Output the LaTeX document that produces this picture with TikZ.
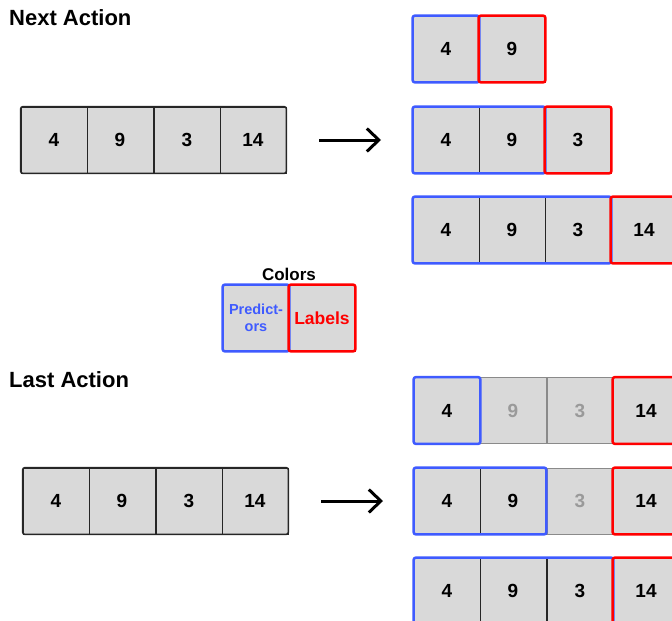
\documentclass[tikz,border=0pt]{standalone}
\usepackage{fontspec}
\setmainfont{Liberation Sans}
\usetikzlibrary{arrows.meta}
\definecolor{cellgray}{HTML}{D9D9D9}
\definecolor{predblue}{HTML}{3F5BFF}
\definecolor{labred}{HTML}{FF0000}
\definecolor{dimgray}{HTML}{8A8A8A}
\definecolor{dimtext}{HTML}{9A9A9A}
\tikzset{
  cell/.style={draw=black!85, line width=0.9pt, fill=cellgray, minimum width=66pt, minimum height=66pt, inner sep=0pt, font=\fontsize{19}{21}\selectfont\bfseries},
  dimcell/.style={cell, draw=dimgray, text=dimtext},
  outerbox/.style={draw=black!85, line width=1.5pt, rounded corners=2.5pt},
  bluebox/.style={draw=predblue, line width=2.5pt, rounded corners=2.5pt},
  redbox/.style={draw=labred, line width=2.5pt, rounded corners=2.5pt},
  title/.style={anchor=base west, inner sep=0pt, font=\fontsize{22}{24}\selectfont\bfseries},
  arrowline/.style={-{Straight Barb[length=12pt,width=23pt,line width=3pt]}, line width=3pt}
}
\begin{document}
\begin{tikzpicture}[x=1pt, y=-1pt]
\useasboundingbox (0,0) rectangle (672,621);
% titles
\node[title] (t1) at (9,25) {Next Action};
\node[title] (t2) at (9,387) {Last Action};
% top-left array
\node[cell] (a1) at (54,140) {4};
\node[cell] (a2) at (120,140) {9};
\node[cell] (a3) at (187,140) {3};
\node[cell] (a4) at (253,140) {14};
\draw[outerbox] (a1.north west) rectangle (a4.south east);
% arrow top
\coordinate (ar1s) at (319,140);
\coordinate (ar1e) at (381,140);
\draw[arrowline] (ar1s) -- (ar1e);
% top right row 1
\node[cell] (p1a) at (446,49) {4};
\node[cell] (p1b) at (512,49) {9};
\draw[bluebox] (p1a.north west) rectangle (p1a.south east);
\draw[redbox] (p1b.north west) rectangle (p1b.south east);
% row 2
\node[cell] (p2a) at (446,140) {4};
\node[cell] (p2b) at (512,140) {9};
\node[cell] (p2c) at (578,140) {3};
\draw[bluebox] (p2a.north west) rectangle (p2b.south east);
\draw[redbox] (p2c.north west) rectangle (p2c.south east);
% row 3
\node[cell] (p3a) at (446,230) {4};
\node[cell] (p3b) at (512,230) {9};
\node[cell] (p3c) at (578,230) {3};
\node[cell] (p3d) at (644,230) {14};
\draw[bluebox] (p3a.north west) rectangle (p3c.south east);
\draw[redbox] (p3d.north west) rectangle (p3d.south east);
% legend
\node[anchor=base, inner sep=0pt, font=\fontsize{17}{19}\selectfont\bfseries] (lt) at (289,280) {Colors};
\node[cell, font=\fontsize{14.5}{17}\selectfont\bfseries, text=predblue, align=center] (lp) at (256,318) {Predict-\\ors};
\node[cell, font=\fontsize{17.5}{19}\selectfont\bfseries, text=labred] (ll) at (322,318) {Labels};
\draw[bluebox] (lp.north west) rectangle (lp.south east);
\draw[redbox] (ll.north west) rectangle (ll.south east);
% bottom-left array
\node[cell] (b1) at (56,501) {4};
\node[cell] (b2) at (122,501) {9};
\node[cell] (b3) at (189,501) {3};
\node[cell] (b4) at (255,501) {14};
\draw[outerbox] (b1.north west) rectangle (b4.south east);
% arrow bottom
\coordinate (ar2s) at (321,501);
\coordinate (ar2e) at (383,501);
\draw[arrowline] (ar2s) -- (ar2e);
% bottom right row 1
\node[cell] (s1a) at (447,410.5) {4};
\node[dimcell] (s1b) at (513,410.5) {9};
\node[dimcell] (s1c) at (580,410.5) {3};
\node[cell] (s1d) at (646,410.5) {14};
\draw[bluebox] (s1a.north west) rectangle (s1a.south east);
\draw[redbox] (s1d.north west) rectangle (s1d.south east);
% row 2
\node[cell] (s2a) at (447,501) {4};
\node[cell] (s2b) at (513,501) {9};
\node[dimcell] (s2c) at (580,501) {3};
\node[cell] (s2d) at (646,501) {14};
\draw[bluebox] (s2a.north west) rectangle (s2b.south east);
\draw[redbox] (s2d.north west) rectangle (s2d.south east);
% row 3
\node[cell] (s3a) at (447,591) {4};
\node[cell] (s3b) at (513,591) {9};
\node[cell] (s3c) at (580,591) {3};
\node[cell] (s3d) at (646,591) {14};
\draw[bluebox] (s3a.north west) rectangle (s3c.south east);
\draw[redbox] (s3d.north west) rectangle (s3d.south east);
\end{tikzpicture}
\end{document}
